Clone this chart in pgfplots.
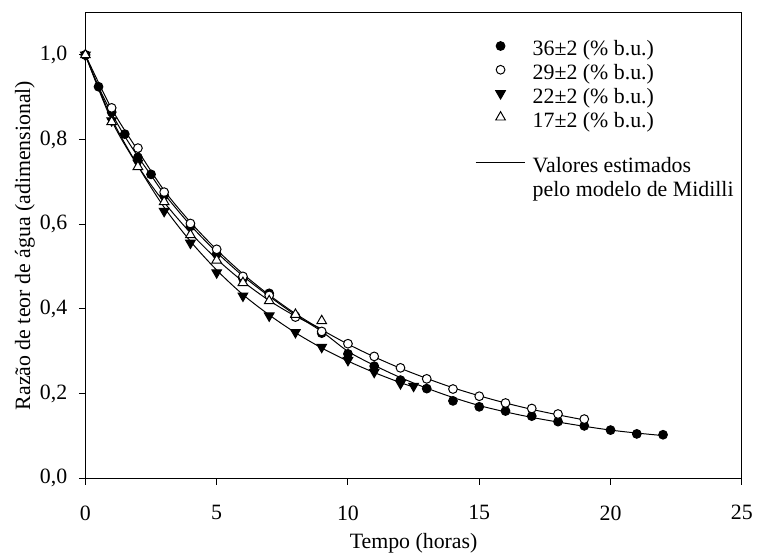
\documentclass[border=0pt]{standalone}
\usepackage{fontspec}
\setmainfont{Liberation Serif}
\usepackage{pgfplots}
\pgfplotsset{compat=1.18}
\newcommand{\LE}[2][0bp]{\hspace*{3.7bp}\raisebox{#1}[9.1bp][3.9bp]{#2}}
\begin{document}
\fontsize{11bp}{13bp}\selectfont
\begin{tikzpicture}
\begin{axis}[
  name=ax,
  scale only axis, width=330.5bp, height=234.5bp,
  xmin=0, xmax=25, ymin=0, ymax=1.1,
  xtick={0,5,10,15,20,25}, ytick={0,0.2,0.4,0.6,0.8,1.0},
  tick align=outside, tick pos=left, major tick length=3.3bp,
  axis line style={line width=0.5bp},
  every tick/.style={line width=0.5bp, black},
  /pgf/number format/assume math mode=true,
  yticklabel style={/pgf/number format/fixed, /pgf/number format/fixed zerofill,
    /pgf/number format/precision=1, /pgf/number format/use comma, xshift=-2bp},
  xticklabel style={yshift=-6.5bp},
  tick label style={font=\fontsize{11bp}{13bp}\selectfont},
  label style={font=\fontsize{12.5bp}{15bp}\selectfont},
  xlabel={Tempo (horas)}, ylabel={Razão de teor de água (adimensional)},
  every axis x label/.style={at={(rel axis cs:0.5,0)}, yshift=-32.5bp, anchor=center, inner sep=0pt},
  every axis y label/.style={at={(rel axis cs:0,0.5)}, xshift=-30.5bp, rotate=90, anchor=center, inner sep=0pt},
  legend image code/.code={\path[draw=none,fill=none] (0bp,0bp) (25bp,0bp);
    \draw[mark repeat=2,mark phase=2,#1] plot coordinates {(0bp,1.3bp) (12.5bp,1.3bp) (25bp,1.3bp)};},
  legend style={draw=none, fill=none, at={(rel axis cs:0.585,0.955)}, anchor=north west,
    row sep=1.2bp, column sep=0pt, font=\fontsize{11bp}{13bp}\selectfont,
    nodes={inner sep=0pt}, cells={anchor=base west}},
  legend cell align=left,
]
% fitted curves (Midilli)
\addplot[black, line width=0.5bp, smooth, forget plot] coordinates {
(0,1.0) (0.5,0.925) (1,0.862) (1.5,0.808) (2,0.760) (2.5,0.716) (3,0.672) (4,0.598) (5,0.534) (6,0.478) (7,0.430) (8,0.386) (9,0.347) (10,0.300) (11,0.267) (12,0.238) (13,0.213) (14,0.191) (15,0.172) (16,0.157) (17,0.144) (18,0.133) (19,0.123) (20,0.114) (21,0.107) (22,0.101)};
\addplot[black, line width=0.5bp, smooth, forget plot] coordinates {
(0,1.0) (1,0.873) (2,0.774) (3,0.680) (4,0.605) (5,0.540) (6,0.483) (7,0.433) (8,0.389) (9,0.351) (10,0.317) (11,0.287) (12,0.260) (13,0.236) (14,0.214) (15,0.195) (16,0.178) (17,0.163) (18,0.150) (19,0.138)};
\addplot[black, line width=0.5bp, smooth, forget plot] coordinates {
(0,1.0) (1,0.850) (2,0.738) (3,0.640) (4,0.560) (5,0.492) (6,0.434) (7,0.386) (8,0.344) (9,0.308) (10,0.277) (11,0.250) (12,0.226) (12.5,0.216)};
\addplot[black, line width=0.5bp, smooth, forget plot] coordinates {
(0,1.0) (1,0.845) (2,0.738) (3,0.652) (4,0.580) (5,0.518) (6,0.465) (7,0.420) (8,0.383) (9,0.353)};
% data
\addplot[only marks, mark=*, mark size=2.2bp, mark options={fill=black, draw=black, line width=0.5bp}] coordinates {
(0,1.000) (0.5,0.925) (1,0.865) (1.5,0.813) (2,0.758) (2.5,0.718) (3,0.668) (4,0.595) (5,0.530) (6,0.472) (7,0.437) (8,0.383) (9,0.343) (10,0.294) (11,0.265) (12,0.232) (13,0.212) (14,0.183) (15,0.169) (16,0.159) (17,0.147) (18,0.134) (19,0.124) (20,0.114) (21,0.105) (22,0.103)};
\addlegendentry{\LE{36±2 (\% b.u.)}}
\addplot[only marks, mark=*, mark size=2.2bp, mark options={fill=white, draw=black, line width=0.5bp}] coordinates {
(0,1.000) (1,0.875) (2,0.780) (3,0.676) (4,0.602) (5,0.541) (6,0.477) (7,0.432) (8,0.381) (9,0.347) (10,0.318) (11,0.288) (12,0.261) (13,0.235) (14,0.211) (15,0.194) (16,0.178) (17,0.165) (18,0.152) (19,0.140)};
\addlegendentry{\LE{29±2 (\% b.u.)}}
\addplot[only marks, mark=triangle*, mark size=2.8bp, mark options={rotate=180, fill=black, draw=black, line width=0.5bp}] coordinates {
(0,1.000) (1,0.845) (2,0.745) (3,0.631) (4,0.556) (5,0.486) (6,0.431) (7,0.384) (8,0.345) (9,0.310) (10,0.279) (11,0.251) (12,0.224) (12.5,0.218)};
\addlegendentry{\LE{22±2 (\% b.u.)}}
\addplot[only marks, mark=triangle*, mark size=2.8bp, mark options={fill=white, draw=black, line width=0.5bp}] coordinates {
(0,1.000) (1,0.842) (2,0.736) (3,0.653) (4,0.575) (5,0.515) (6,0.462) (7,0.419) (8,0.387) (9,0.372)};
\addlegendentry{\LE{17±2 (\% b.u.)}}
\addlegendimage{black, line width=0.5bp, yshift=-11bp, overlay}
\addlegendentry{\LE[-11bp]{Valores estimados}}
\addlegendimage{empty legend}
\addlegendentry{\LE[-11bp]{pelo modelo de Midilli}}
\end{axis}
\path (ax.south west) ++(-43bp,-35.5bp);
\path (ax.north east) ++(6.5bp,6.35bp);
\end{tikzpicture}
\end{document}
